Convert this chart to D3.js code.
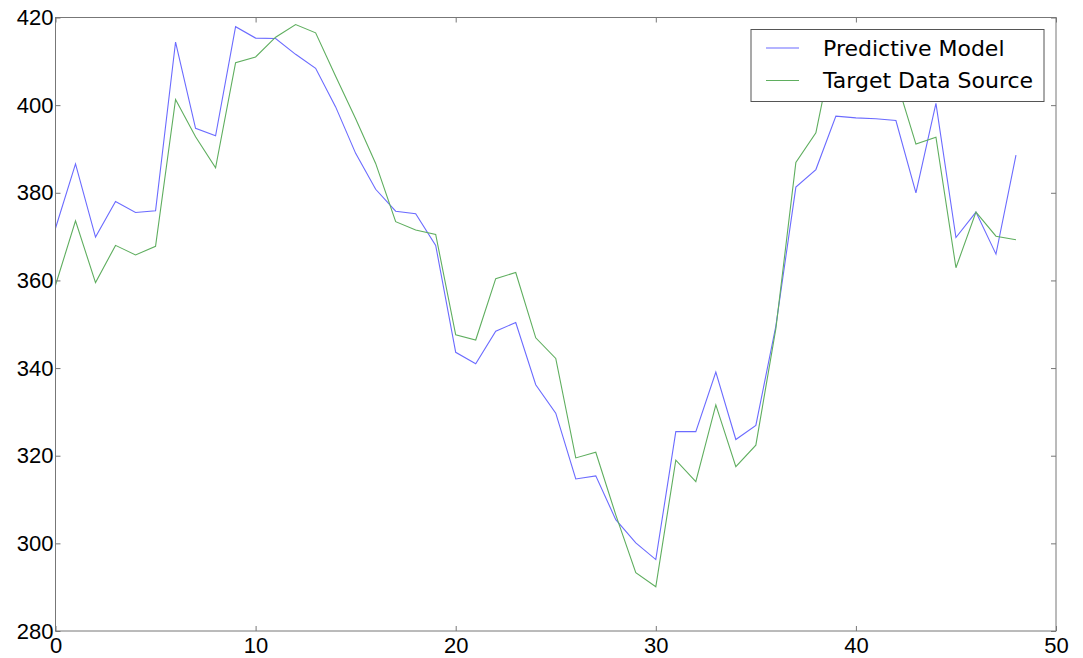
<!DOCTYPE html>
<html>
<head>
<meta charset="utf-8">
<script src="https://cdn.jsdelivr.net/npm/d3@7"></script>
<style>
  body { margin: 0; background: #fff; }
  svg { display: block; font-family: "DejaVu Sans", sans-serif; }
</style>
</head>
<body>
<div id="chart"></div>
<script>
// values, index 0..48
var predicted = [371.9, 386.6, 369.9, 378.0, 375.5, 375.9, 414.4, 394.7, 393.0, 417.9,
                 415.3, 415.2, 411.6, 408.4, 399.6, 389.0, 380.8, 375.8, 375.2, 368.0,
                 343.6, 341.0, 348.4, 350.4, 336.2, 329.7, 314.7, 315.4, 305.4, 300.1,
                 296.3, 325.5, 325.5, 339.1, 323.7, 326.9, 349.6, 381.3, 385.3, 397.5,
                 397.1, 396.9, 396.5, 380.0, 400.4, 369.8, 375.6, 366.0, 388.6];
var target = [358.9, 373.6, 359.5, 368.0, 365.8, 367.8, 401.3, 392.8, 385.7, 409.7,
              411.0, 415.5, 418.4, 416.5, 406.6, 396.9, 386.7, 373.4, 371.5, 370.5,
              347.6, 346.4, 360.4, 361.8, 346.9, 342.2, 319.5, 320.8, 306.5, 293.3,
              290.1, 319.0, 314.1, 331.6, 317.5, 322.4, 349.0, 386.9, 393.7, 416.0,
              414.0, 411.0, 406.0, 391.1, 392.7, 362.9, 375.6, 370.1, 369.3];
var seriesNames = ["Predictive Model", "Target Data Source"];
var seriesColors = ["#6b6bff", "#5fae5f"];
var xTicks = [0, 10, 20, 30, 40, 50];
var yTicks = [280, 300, 320, 340, 360, 380, 400, 420];

var W = 1083, H = 658;
var margin = {top: 17.5, right: 27, bottom: 27, left: 55.5};
var width = W - margin.left - margin.right,
    height = H - margin.top - margin.bottom;

var svg = d3.select("#chart").append("svg")
    .attr("width", W)
    .attr("height", H);

var g = svg.append("g")
    .attr("transform", "translate(" + margin.left + "," + margin.top + ")");

var x = d3.scaleLinear().domain([0, 50]).range([0, width]);
var y = d3.scaleLinear().domain([280, 420]).range([height, 0]);

var line = d3.line()
    .x(function(d, i) { return x(i); })
    .y(function(d) { return y(d); });

var series = [predicted, target];
series.forEach(function(s, k) {
  g.append("path")
      .datum(s)
      .attr("fill", "none")
      .attr("stroke", seriesColors[k])
      .attr("stroke-width", 1.1)
      .attr("d", line);
});

// axes, ticks point inward like the old matplotlib style
var axisStyle = function(sel) {
  sel.select(".domain").remove();
  sel.selectAll(".tick line").attr("stroke", "#777");
  sel.selectAll(".tick text").attr("fill", "#000").style("font-size", "22px");
};

g.append("g")
    .attr("transform", "translate(0," + height + ")")
    .call(d3.axisBottom(x).tickValues(xTicks).tickSize(-5).tickPadding(3).tickFormat(d3.format("d")))
    .call(axisStyle)
    .selectAll(".tick text").attr("dy", "0.95em").attr("y", 1);

g.append("g")
    .call(d3.axisTop(x).tickValues(xTicks).tickSize(-5).tickFormat(""))
    .call(axisStyle);

g.append("g")
    .call(d3.axisLeft(y).tickValues(yTicks).tickSize(-5).tickPadding(3).tickFormat(d3.format("d")))
    .call(axisStyle)
    .selectAll(".tick text").attr("x", -2);

g.append("g")
    .attr("transform", "translate(" + width + ",0)")
    .call(d3.axisRight(y).tickValues(yTicks).tickSize(-5).tickFormat(""))
    .call(axisStyle);

g.append("rect")
    .attr("width", width)
    .attr("height", height)
    .attr("fill", "none")
    .attr("stroke", "#777")
    .attr("stroke-width", 1);

// legend
var legend = g.append("g")
    .attr("transform", "translate(" + (width - 305) + ",12)");

legend.append("rect")
    .attr("width", 293)
    .attr("height", 72)
    .attr("fill", "#fff")
    .attr("stroke", "#555")
    .attr("stroke-width", 1);

seriesNames.forEach(function(name, k) {
  var ly = 18.5 + k * 32.5;
  legend.append("line")
      .attr("x1", 15).attr("x2", 48)
      .attr("y1", ly).attr("y2", ly)
      .attr("stroke", seriesColors[k])
      .attr("stroke-width", 1.1);
  legend.append("text")
      .attr("x", 72)
      .attr("y", ly)
      .attr("dy", "0.36em")
      .style("font-size", "22px")
      .text(name);
});
</script>
</body>
</html>
